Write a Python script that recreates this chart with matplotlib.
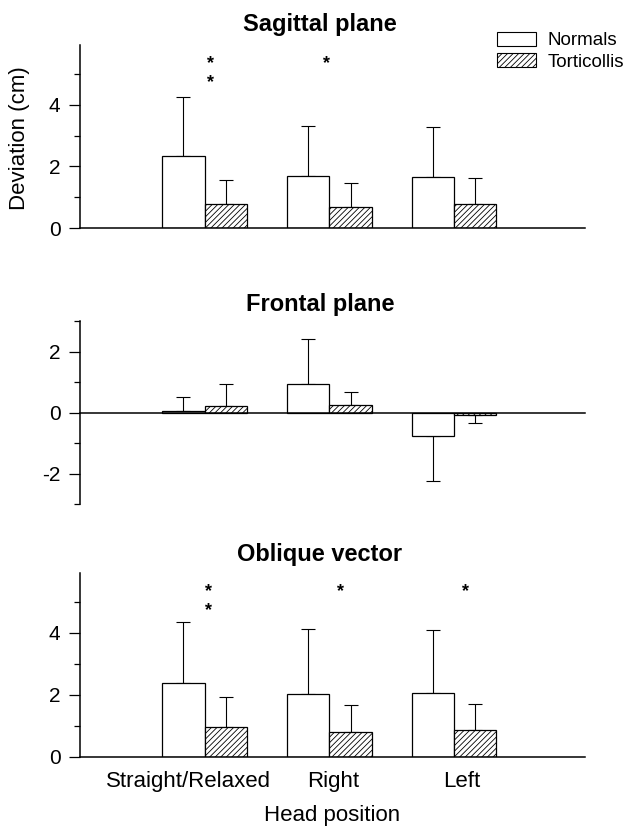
#======================================================================
# PURPOSE : Head deviation in normals vs torticollis (3 stacked panels)
#======================================================================
import numpy as np
import matplotlib
matplotlib.use("Agg")
import matplotlib.pyplot as plt
from matplotlib.patches import Patch

plt.rcParams['font.family'] = ['Liberation Sans', 'DejaVu Sans']
plt.rcParams['axes.unicode_minus'] = False
plt.rcParams['hatch.linewidth'] = 0.6
plt.rcParams['hatch.color'] = '#444444'

#--------------------------------------------------------------------------
#                    Data
#--------------------------------------------------------------------------
positions = ["Straight/Relaxed", "Right", "Left"]
panel_titles = ["Sagittal plane", "Frontal plane", "Oblique vector"]

sagittal_normals = [2.33, 1.68, 1.65]
sagittal_normals_sd = [1.93, 1.63, 1.64]
sagittal_tort = [0.77, 0.69, 0.77]
sagittal_tort_sd = [0.80, 0.78, 0.84]

frontal_normals = [0.05, 0.93, -0.77]
frontal_normals_sd = [0.45, 1.48, 1.49]
frontal_tort = [0.20, 0.24, -0.08]
frontal_tort_sd = [0.74, 0.44, 0.28]

oblique_normals = [2.37, 2.03, 2.05]
oblique_normals_sd = [1.97, 2.10, 2.05]
oblique_tort = [0.96, 0.80, 0.86]
oblique_tort_sd = [0.97, 0.86, 0.86]

# significance stars : number of stars per head position
sagittal_stars = [2, 1, 0]
frontal_stars = [0, 0, 0]
oblique_stars = [2, 1, 1]

#--------------------------------------------------------------------------
#                    Figure layout
#--------------------------------------------------------------------------
W, H = 632, 827
X0, X1 = 80, 585          # left / right end of the axes in pixels
fig = plt.figure(figsize=(W/100, H/100), dpi=100)

def ax_box(top_px, bottom_px):
    return [X0/W, 1-bottom_px/H, (X1-X0)/W, (bottom_px-top_px)/H]

axes = [fig.add_axes(ax_box(45, 228)),
        fig.add_axes(ax_box(321, 504)),
        fig.add_axes(ax_box(573, 757))]
title_y = [25, 304, 554]                 # title centres (px from top)
star_dx = [[0.05, -0.02, 0], [0, 0, 0], [0.03, 0.09, 0.09]]

panels = [(sagittal_normals, sagittal_normals_sd, sagittal_tort, sagittal_tort_sd, sagittal_stars, (0, 5.95)),
          (frontal_normals, frontal_normals_sd, frontal_tort, frontal_tort_sd, frontal_stars, (-3, 3)),
          (oblique_normals, oblique_normals_sd, oblique_tort, oblique_tort_sd, oblique_stars, (0, 5.92))]

x = np.arange(1, len(positions)+1)
w = 0.34

def one_sided(vals, sd):
    vals = np.asarray(vals); sd = np.asarray(sd)
    lower = np.where(vals < 0, sd, 0)
    upper = np.where(vals >= 0, sd, 0)
    return [lower, upper]

#--------------------------------------------------------------------------
#                    Plotting Logic
#--------------------------------------------------------------------------
for i, (ax, title, (nm, nsd, tm, tsd, stars, ylim)) in enumerate(zip(axes, panel_titles, panels)):
    ax.bar(x - w/2, nm, w, color='white', edgecolor='black', linewidth=0.9, zorder=2)
    ax.bar(x + w/2, tm, w, color='white', edgecolor='black', linewidth=0.9,
           hatch='//////', zorder=2)
    ax.errorbar(x - w/2, nm, yerr=one_sided(nm, nsd), fmt='none', ecolor='black',
                elinewidth=0.8, capsize=5, capthick=0.8, zorder=1)
    ax.errorbar(x + w/2, tm, yerr=one_sided(tm, tsd), fmt='none', ecolor='black',
                elinewidth=0.8, capsize=5, capthick=0.8, zorder=1)

    for xi, n, dx in zip(x, stars, star_dx[i]):
        if n >= 1:
            ax.text(xi + dx, 5.33, '*', ha='center', va='center', fontsize=13, fontweight='bold')
        if n >= 2:
            ax.text(xi + dx, 4.72, '*', ha='center', va='center', fontsize=13, fontweight='bold')

    ax.set_xlim(0, 4.05)
    ax.set_ylim(*ylim)
    ax.spines['top'].set_visible(False)
    ax.spines['right'].set_visible(False)
    ax.spines['bottom'].set_position(('data', 0))
    ax.spines['left'].set_linewidth(1.1)
    ax.spines['bottom'].set_linewidth(1.1)
    ax.set_xticks([])
    lo, hi = ylim
    ax.set_yticks([v for v in range(-2, 6, 2) if lo <= v <= hi])
    ax.set_yticks([v for v in range(-3, 6) if v % 2 and lo <= v <= hi], minor=True)
    ax.tick_params(axis='y', which='major', direction='out', length=8, width=0.9,
                   labelsize=15, pad=6)
    ax.tick_params(axis='y', which='minor', direction='out', length=4, width=0.9)
    fig.text(320/W, 1-title_y[i]/H, title, ha='center', va='center',
             fontsize=17, fontweight='bold')

# head position labels sit slightly off the group centres in the original
label_dx = [-0.13, 0.03, 0.06]
axes[2].set_xticks(x + np.array(label_dx))
axes[2].set_xticklabels(positions, fontsize=16)
axes[2].tick_params(axis='x', length=0, pad=10)

fig.text((X0+X1)/2/W, 1-815/H, "Head position", ha='center', va='center', fontsize=16)
fig.text(20/W, 1-138/H, "Deviation (cm)", rotation=90, ha='center', va='center', fontsize=16)

handles = [Patch(facecolor='white', edgecolor='black', linewidth=0.8, label='Normals'),
           Patch(facecolor='white', edgecolor='black', linewidth=0.8, hatch='//////', label='Torticollis')]
fig.legend(handles=handles, loc='upper left', bbox_to_anchor=(497/W, 1-32/H), frameon=False,
           fontsize=13.5, handlelength=2.1, handleheight=0.75, labelspacing=0.2, handletextpad=0.6,
           borderaxespad=0, borderpad=0)

fig.savefig('out.png', dpi=100)
print("Completed Successfully ... ")
